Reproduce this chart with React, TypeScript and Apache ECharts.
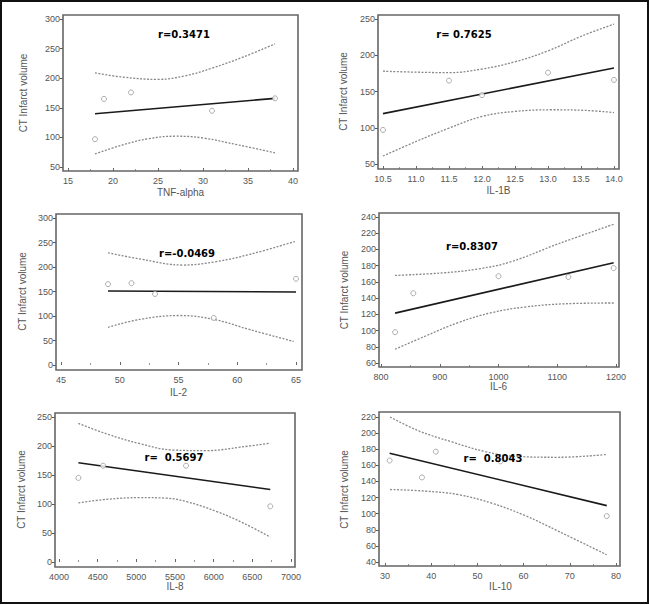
import React, { useEffect, useRef } from "react";
import * as echarts from "echarts";

// ---------- Data ----------
// Panel 1: TNF-alpha
const TNF_X = [18, 19, 22, 31, 38];
const TNF_Y = [97, 165, 176, 145, 166];
const TNF_FIT_X = [18, 38];
const TNF_FIT_Y = [140, 166];
const TNF_UP_X = [18, 21, 25, 28, 31, 34.5, 38];
const TNF_UP_Y = [209, 202, 198, 204, 217, 236, 258];
const TNF_LO_X = [18, 21, 24, 27, 30, 34, 38];
const TNF_LO_Y = [72, 87, 98, 102, 99, 87, 74];

// Panel 2: IL-1B
const IL1B_X = [10.5, 11.5, 12.0, 13.0, 14.0];
const IL1B_Y = [97, 165, 145, 176, 166];
const IL1B_FIT_X = [10.5, 14.0];
const IL1B_FIT_Y = [119.5, 182.5];
const IL1B_UP_X = [10.5, 11.5, 12.0, 12.5, 13.0, 13.5, 14.0];
const IL1B_UP_Y = [178, 176, 181, 191, 206, 226, 243];
const IL1B_LO_X = [10.5, 11.0, 11.5, 12.0, 12.5, 13.05, 13.55, 14.0];
const IL1B_LO_Y = [61, 81, 99.5, 115.6, 122.5, 124.8, 124, 121];

// Panel 3: IL-2
const IL2_X = [49, 51, 53, 58, 65];
const IL2_Y = [165, 167, 145, 96, 176];
const IL2_FIT_X = [49, 65];
const IL2_FIT_Y = [151, 149];
const IL2_UP_X = [49, 51.7, 55.4, 58.2, 61.1, 64.9];
const IL2_UP_Y = [229, 216.5, 204, 211, 226, 252];
const IL2_LO_X = [49, 51.7, 55.1, 58, 61.1, 64.8];
const IL2_LO_Y = [77, 93, 101, 93, 72, 48];

// Panel 4: IL-6
const IL6_X = [824, 855, 1000, 1119, 1196];
const IL6_Y = [98, 146, 167, 166, 177];
const IL6_FIT_X = [824, 1196];
const IL6_FIT_Y = [121.5, 183.5];
const IL6_UP_X = [824, 903, 966, 1022, 1102, 1196];
const IL6_UP_Y = [168, 171, 176, 185, 207, 231];
const IL6_LO_X = [824, 875, 932, 988, 1045, 1113, 1196];
const IL6_LO_Y = [77, 93, 110, 122, 129, 133, 134];

// Panel 5: IL-8
const IL8_X = [4251, 4570, 5643, 6732];
const IL8_Y = [145, 166, 166, 96];
const IL8_FIT_X = [4251, 6732];
const IL8_FIT_Y = [171, 125];
const IL8_UP_X = [4251, 4614, 5046, 5478, 5911, 6343, 6732];
const IL8_UP_Y = [239, 221, 204, 193, 192, 198, 205];
const IL8_LO_X = [4251, 4614, 5046, 5392, 5651, 6040, 6386, 6732];
const IL8_LO_Y = [102, 108, 111, 110, 104, 87, 67, 43];

// Panel 6: IL-10
const IL10_X = [31, 38, 41, 55, 78];
const IL10_Y = [166, 145, 177, 165, 97];
const IL10_FIT_X = [31, 78];
const IL10_FIT_Y = [175, 110];
const IL10_UP_X = [31.1, 37.2, 44.5, 51.7, 57.5, 67.6, 78];
const IL10_UP_Y = [220, 203, 189, 177, 171.5, 170, 173.5];
const IL10_LO_X = [31.1, 38.7, 45.9, 53.1, 60.3, 67.6, 78];
const IL10_LO_Y = [130, 128, 123.6, 113, 97.7, 78, 49];

const X_NAMES = ["TNF-alpha", "IL-1B", "IL-2", "IL-6", "IL-8", "IL-10"];
const Y_NAME = "CT Infarct volume";
const R_LABELS = ["r=0.3471", "r= 0.7625", "r=-0.0469", "r=0.8307", "r=  0.5697", "r=  0.8043"];

// Axis ranges
const X_MIN = [15, 10.5, 45, 800, 4000, 30];
const X_MAX = [40, 14.0, 65, 1200, 7000, 80];
const X_INT = [5, 0.5, 5, 100, 500, 10];
const Y_MIN = [50, 50, 0, 60, 0, 40];
const Y_MAX = [300, 250, 300, 240, 250, 220];
const Y_INT = [50, 50, 50, 20, 50, 20];

const zip = (xs: number[], ys: number[]) => xs.map((x, i) => [x, ys[i]]);

const PANELS = [
  { pts: zip(TNF_X, TNF_Y), fit: zip(TNF_FIT_X, TNF_FIT_Y), up: zip(TNF_UP_X, TNF_UP_Y), lo: zip(TNF_LO_X, TNF_LO_Y) },
  { pts: zip(IL1B_X, IL1B_Y), fit: zip(IL1B_FIT_X, IL1B_FIT_Y), up: zip(IL1B_UP_X, IL1B_UP_Y), lo: zip(IL1B_LO_X, IL1B_LO_Y) },
  { pts: zip(IL2_X, IL2_Y), fit: zip(IL2_FIT_X, IL2_FIT_Y), up: zip(IL2_UP_X, IL2_UP_Y), lo: zip(IL2_LO_X, IL2_LO_Y) },
  { pts: zip(IL6_X, IL6_Y), fit: zip(IL6_FIT_X, IL6_FIT_Y), up: zip(IL6_UP_X, IL6_UP_Y), lo: zip(IL6_LO_X, IL6_LO_Y) },
  { pts: zip(IL8_X, IL8_Y), fit: zip(IL8_FIT_X, IL8_FIT_Y), up: zip(IL8_UP_X, IL8_UP_Y), lo: zip(IL8_LO_X, IL8_LO_Y) },
  { pts: zip(IL10_X, IL10_Y), fit: zip(IL10_FIT_X, IL10_FIT_Y), up: zip(IL10_UP_X, IL10_UP_Y), lo: zip(IL10_LO_X, IL10_LO_Y) },
];

// ---------- Layout ----------
const LAYOUT = [
  { grid: [68, 19, 225, 148], box: [63, 15, 298, 171], yName: 41, xName: 22, r: [184, 34] },
  { grid: [383, 19, 231, 145], box: [378, 15, 619, 169], yName: 36, xName: 22, r: [464, 34] },
  { grid: [61, 218, 235, 147], box: [56, 214, 302, 370], yName: 35, xName: 23, r: [187, 253] },
  { grid: [381, 217, 235, 146], box: [379, 213, 619, 367], yName: 36, xName: 20, r: [472, 246] },
  { grid: [59, 417, 232, 145], box: [55, 413, 295, 567], yName: 35, xName: 20, r: [174, 457] },
  { grid: [385, 417, 231, 145], box: [379, 412, 620, 566], yName: 36, xName: 21, r: [493, 458] },
];

const TEXT = "#555";
const FONT = "Liberation Sans";

export default function App() {
  const ref = useRef<HTMLDivElement>(null);

  useEffect(() => {
    document.body.style.margin = "0";
    if (!ref.current) return;
    const chart = echarts.init(ref.current, undefined, { renderer: "svg" });

    const grids: any[] = [];
    const xAxes: any[] = [];
    const yAxes: any[] = [];
    const series: any[] = [];
    const graphics: any[] = [
      {
        type: "rect",
        shape: { x: 1, y: 1, width: 647, height: 602 },
        style: { fill: "none", stroke: "#111", lineWidth: 2 },
        z: 100,
      },
    ];

    LAYOUT.forEach((L, i) => {
      const [gl, gt, gw, gh] = L.grid;
      const [bl, bt, br, bb] = L.box;
      grids.push({ left: gl, top: gt, width: gw, height: gh, containLabel: false });
      const yOff = gl - bl;
      const xOff = bb - (gt + gh);
      xAxes.push({
        gridIndex: i,
        type: "value",
        min: X_MIN[i],
        max: X_MAX[i],
        interval: X_INT[i],
        offset: xOff,
        name: X_NAMES[i],
        nameLocation: "middle",
        nameGap: L.xName - 6,
        nameTextStyle: { color: TEXT, fontSize: 10, fontFamily: FONT },
        axisLine: { show: false },
        axisTick: { show: true, inside: true, length: 3, lineStyle: { color: "#666" } },
        minorTick: { show: true, splitNumber: 2, length: 2, lineStyle: { color: "#999" } },
        splitLine: { show: false },
        axisLabel: {
          color: TEXT,
          fontSize: 9,
          fontFamily: FONT,
          margin: 5,
          formatter: (v: number) => (i === 1 ? v.toFixed(1) : String(v)),
        },
      });
      yAxes.push({
        gridIndex: i,
        type: "value",
        min: Y_MIN[i],
        max: Y_MAX[i],
        interval: Y_INT[i],
        offset: yOff,
        name: Y_NAME,
        nameLocation: "middle",
        nameGap: L.yName - 6,
        nameTextStyle: { color: TEXT, fontSize: 10, fontFamily: FONT },
        axisLine: { show: false },
        axisTick: { show: true, inside: false, length: 3, lineStyle: { color: "#555" } },
        splitLine: { show: false },
        axisLabel: { color: TEXT, fontSize: 9, fontFamily: FONT, margin: 3 },
      });

      const P = PANELS[i];
      const ci = { color: "#888", width: 1.3, type: [2, 1.5] };
      series.push({
        type: "line", xAxisIndex: i, yAxisIndex: i, data: P.up, smooth: 0.4,
        showSymbol: false, symbol: "none", lineStyle: ci, z: 2,
      });
      series.push({
        type: "line", xAxisIndex: i, yAxisIndex: i, data: P.lo, smooth: 0.4,
        showSymbol: false, symbol: "none", lineStyle: ci, z: 2,
      });
      series.push({
        type: "line", xAxisIndex: i, yAxisIndex: i, data: P.fit,
        showSymbol: false, symbol: "none", lineStyle: { color: "#1a1a1a", width: 1.6 }, z: 3,
      });
      series.push({
        type: "scatter", xAxisIndex: i, yAxisIndex: i, data: P.pts,
        symbol: "circle", symbolSize: 5,
        itemStyle: { color: "#fff", borderColor: "#999", borderWidth: 1 },
        z: 4,
      });

      graphics.push({
        type: "rect",
        shape: { x: bl, y: bt, width: br - bl, height: bb - bt },
        style: { fill: "none", stroke: "#666", lineWidth: 1.6 },
        z: 50,
      });
      graphics.push({
        type: "text",
        x: L.r[0],
        y: L.r[1],
        style: {
          text: R_LABELS[i],
          fontSize: 10,
          fontWeight: "bold",
          fontFamily: "DejaVu Sans",
          fill: "#000",
          align: "center",
          verticalAlign: "middle",
        },
        z: 60,
      });
    });

    chart.setOption({
      animation: false,
      backgroundColor: "#fff",
      grid: grids,
      xAxis: xAxes,
      yAxis: yAxes,
      series,
      graphic: graphics,
    });

    return () => chart.dispose();
  }, []);

  return <div ref={ref} style={{ width: 650, height: 605 }} />;
}
